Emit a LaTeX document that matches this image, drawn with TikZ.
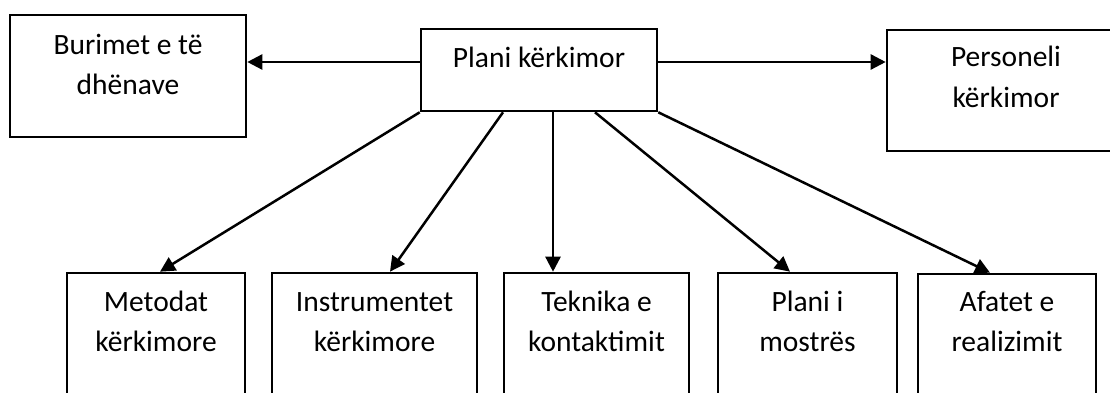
\documentclass[tikz,border=0pt]{standalone}
\usepackage{fontspec}
\setmainfont{Carlito}
\usetikzlibrary{arrows.meta,calc}
\begin{document}
\begin{tikzpicture}[x=1pt,y=-1pt,
  box/.style={draw,line width=2.6pt,inner sep=0pt,fill=white},
  txt/.style={anchor=base,inner sep=0pt,font=\fontsize{29.5}{40}\selectfont},
  conn/.style={line width=2.5pt,-{Triangle[length=15pt,width=15pt]}}
]
\useasboundingbox (0,0) rectangle (1110,393);
\clip (0,0) rectangle (1110,393);
% boxes
\node[box,minimum width=236pt,minimum height=122pt] (bur) at (128,76) {};
\node[box,minimum width=236pt,minimum height=82pt] (plan) at (539,70) {};
\node[box,minimum width=238pt,minimum height=121pt] (pers) at (1006,90.5) {};
\node[box,minimum width=178pt,minimum height=140pt] (met) at (156,343) {};
\node[box,minimum width=205pt,minimum height=140pt] (ins) at (374.5,343) {};
\node[box,minimum width=185pt,minimum height=140pt] (tek) at (596.5,343) {};
\node[box,minimum width=179pt,minimum height=140pt] (mos) at (807.5,343) {};
\node[box,minimum width=178pt,minimum height=140pt] (afa) at (1007,344) {};
% texts
\node[txt] (bur1) at (128,55) {Burimet e të};
\node[txt] (bur2) at (128,95) {dhënave};
\node[txt] (plan1) at (539,68) {Plani kërkimor};
\node[txt] (pers1) at (1006,67) {Personeli};
\node[txt] (pers2) at (1006,107) {kërkimor};
\node[txt] (met1) at (156,311) {Metodat};
\node[txt] (met2) at (156,351) {kërkimore};
\node[txt] (ins1) at (374.5,311) {Instrumentet};
\node[txt] (ins2) at (374.5,351) {kërkimore};
\node[txt] (tek1) at (596.5,311) {Teknika e};
\node[txt] (tek2) at (596.5,351) {kontaktimit};
\node[txt] (mos1) at (807.5,311) {Plani i};
\node[txt] (mos2) at (807.5,351) {mostrës};
\node[txt] (afa1) at (1007,311) {Afatet e};
\node[txt] (afa2) at (1007,351) {realizimit};
% connectors
\draw[conn] (plan.west |- 0,62) -- (bur.east |- 0,62);
\draw[conn] (plan.east |- 0,62) -- (pers.west |- 0,62);
\draw[conn] (plan.south west) -- (met.north -| 160,0);
\draw[conn] (plan.south -| 503,0) -- (ins.north -| 390,0);
\draw[conn] (plan.south -| 553,0) -- (tek.north -| 553,0);
\draw[conn] (plan.south -| 595,0) -- (mos.north -| 790,0);
\draw[conn] (plan.south east) -- (afa.north -| 990,0);
\end{tikzpicture}
\end{document}
